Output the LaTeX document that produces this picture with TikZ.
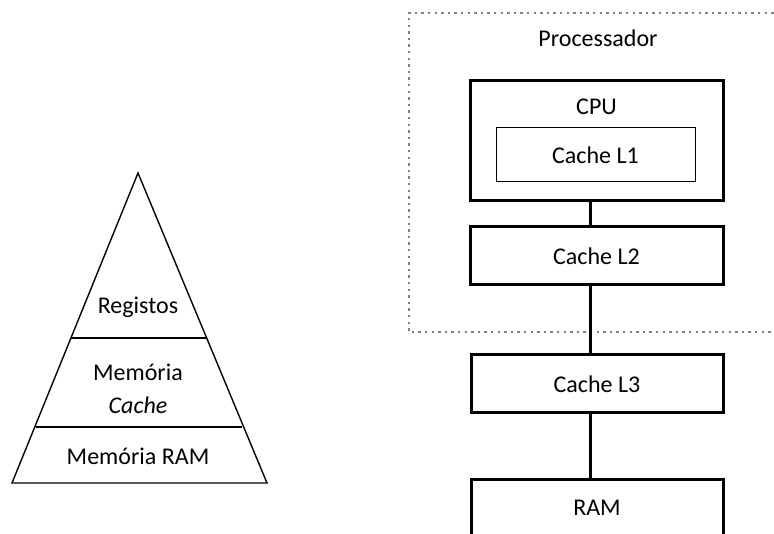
\documentclass[tikz,border=0pt]{standalone}
\usepackage{fontspec}
\setmainfont{Carlito}
\begin{document}
\begin{tikzpicture}[x=1pt,y=-1pt,
  every node/.style={font=\fontsize{24}{28}\selectfont, inner sep=0pt},
  thickbox/.style={draw, line width=3pt, fill=white},
  thinbox/.style={draw, line width=1pt, fill=white},
  bus/.style={line width=3pt},
  frame/.style={draw=black!50, line width=2.4pt, dash pattern=on 2.4pt off 4.2pt},
  tri/.style={line width=1.4pt}]
\clip (0,0) rectangle (774,534);
\fill[white] (0,0) rectangle (774,534);
% pyramid
\coordinate (apex) at (138,173);
\coordinate (bl) at (12,483);
\coordinate (br) at (267,483);
\coordinate (l1a) at (71,338);
\coordinate (l1b) at (206,338);
\coordinate (l2a) at (36,427);
\coordinate (l2b) at (242,427);
\draw[tri, line join=miter] (apex) -- (br) -- (bl) -- cycle;
\draw[tri] (l1a) -- (l1b);
\draw[tri] (l2a) -- (l2b);
\node (reg) at (138,307) {Registos};
\node (mem) at (138,372) {Memória};
\node (cac) at (138,405) {\textit{Cache}};
\node (mram) at (138,456) {Memória RAM};
% processor frame
\draw[frame] (800,13) -- (409,13) -- (409,332) -- (800,332);
\node (proc) at (598,38) {Processador};
% bus line
\coordinate (busx) at (590,0);
% boxes
\node[thickbox, minimum width=253pt, minimum height=120pt] (cpu) at (596.5,141) {};
\node (cputxt) at (596.5,107) {CPU};
\node[thinbox, minimum width=199pt, minimum height=54pt] (l1) at (595.5,155) {Cache L1};
\node[thickbox, minimum width=253pt, minimum height=58pt] (l2) at (596.5,256) {Cache L2};
\node[thickbox, minimum width=252pt, minimum height=58pt] (l3) at (597,384) {Cache L3};
\node[thickbox, minimum width=252pt, minimum height=112pt, anchor=north] (ram) at (597,478) {};
\node (ramtxt) at (597,508) {RAM};
% connectors
\draw[bus] (cpu.south -| busx) -- (l2.north -| busx);
\draw[bus] (l2.south -| busx) -- (l3.north -| busx);
\draw[bus] (l3.south -| busx) -- (ram.north -| busx);
\end{tikzpicture}
\end{document}
